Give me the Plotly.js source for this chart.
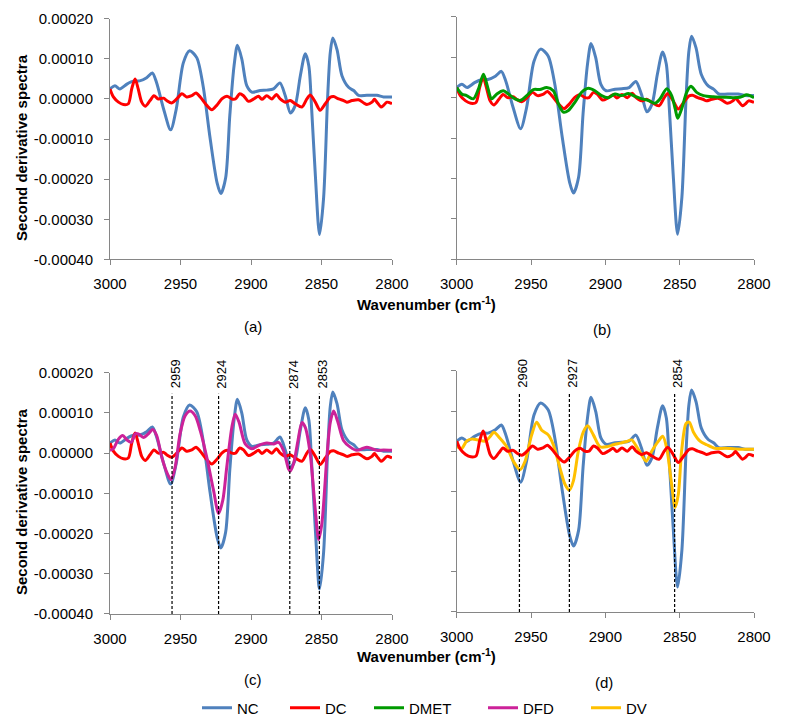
<!DOCTYPE html>
<html>
<head>
<meta charset="utf-8">
<script src="https://cdn.plot.ly/plotly-3.0.1.min.js"></script>
<style>html,body{margin:0;padding:0;background:#fff;}#chart{width:787px;height:725px;}</style>
</head>
<body>
<div id="chart"></div>
<script>
// ---------- DATA ----------
const ncX = [3000,2996.5,2993,2988,2983,2979,2974,2970,2967,2962,2957,2953,2948,2943.5,2938.5,2934,2929,2924,2921.4,2918,2915,2912,2909.6,2906.5,2903,2899.4,2893.5,2888.8,2884,2879.5,2875.7,2872,2868.6,2865,2861.5,2859,2857,2854.4,2851.4,2848.5,2845.7,2843.8,2842,2839,2835.5,2830.8,2827.2,2823.7,2817.8,2810.7,2806,2800];
const ncY = [2.5e-5,3.3e-5,2.5e-5,3.7e-5,4.5e-5,4.5e-5,5.3e-5,6.5e-5,4.1e-5,-2.5e-5,-7.7e-5,-2.5e-5,9.0e-5,1.20e-4,1.03e-4,3.3e-5,-9.8e-5,-2.10e-4,-2.36e-4,-1.97e-4,-4.0e-5,8.3e-5,1.34e-4,9.9e-5,3.3e-5,1.7e-5,2.1e-5,2.2e-5,2.5e-5,4.0e-5,8e-6,-3.5e-5,-1.6e-5,5.8e-5,1.13e-4,8.3e-5,-2.4e-5,-1.88e-4,-3.38e-4,-2.46e-4,0,1.15e-4,1.52e-4,1.23e-4,5.8e-5,2.9e-5,2.1e-5,9e-6,9e-6,9e-6,5e-6,5e-6];

const dcX = [3000,2997.6,2994,2990.5,2987,2984.6,2982.2,2980,2977.5,2975,2971.6,2968.8,2965.7,2962,2959.8,2956.2,2952.7,2949,2945.6,2942,2939,2936,2931.4,2927.8,2924.3,2920.7,2917,2913.6,2911,2908,2905.3,2901.8,2898,2894.7,2892.3,2888.8,2885.2,2882,2879.3,2875.7,2872.2,2868.6,2863.9,2860.4,2858,2854.4,2851,2847.3,2843.8,2841.4,2837.9,2834.3,2832,2828.4,2823.7,2820,2817.8,2814.2,2812.5,2810.7,2807.8,2806,2803.6,2800];
const dcY = [2.5e-5,5e-6,-8e-6,-1.4e-5,-1.2e-5,2.5e-5,5.0e-5,2.5e-5,-8e-6,-1.8e-5,-4e-6,8e-6,0,2e-6,-4e-6,-1.0e-5,0,1.3e-5,5e-6,8e-6,1.5e-5,5e-6,-1.6e-5,-2.7e-5,-1.6e-5,0,7e-6,0,0,1.3e-5,8e-6,-6e-6,0,7e-6,-1e-6,8e-6,0,1.1e-5,0,-8e-6,-4e-6,-1.2e-5,-2.0e-5,0,1.0e-5,-8e-6,-2.8e-5,-1.2e-5,4e-6,6e-6,0,-4e-6,-8e-6,-4e-6,-2e-6,-1.0e-5,-1.4e-5,-8e-6,-1e-6,-8e-6,-2.0e-5,-1.6e-5,-8e-6,-1.2e-5];

const dmetX = [3000,2996.6,2993.3,2988.8,2985.4,2982,2979.4,2976.5,2973,2968.6,2965.2,2960.8,2957.4,2952.9,2948.4,2944,2939.5,2935,2931.6,2928.3,2924.9,2920.4,2916,2911.4,2907,2902.5,2898,2893.5,2889,2884.5,2880,2875.6,2871,2866.6,2863.2,2858.7,2855.4,2853,2851.3,2848.7,2845.3,2842.4,2838.6,2834,2827.4,2820.6,2814,2809.4,2805,2802.7,2800];
const dmetY = [2.5e-5,9e-6,5e-6,-3e-6,2.1e-5,5.8e-5,2.9e-5,-3e-6,9e-6,1.7e-5,9e-6,-3e-6,-7e-6,5e-6,2.0e-5,2.0e-5,2.5e-5,1.7e-5,-1.5e-5,-3.6e-5,-3.2e-5,-1.1e-5,1.3e-5,2.3e-5,1.7e-5,5e-6,0,9e-6,5e-6,1.0e-5,3e-6,-3e-6,-7e-6,-1.4e-5,-3e-6,2.2e-5,5e-6,-2.8e-5,-5.1e-5,-2.8e-5,1.3e-5,2.8e-5,1.3e-5,5e-6,2e-6,1e-6,0,1e-6,7e-6,5e-6,0];

const dfdX = [3000,2997.6,2994,2991,2988,2985,2982,2980,2976.3,2972.8,2969.7,2966.9,2963.3,2959.8,2956.7,2953.8,2950.3,2946.7,2943.2,2939.6,2936,2931.4,2926.6,2923,2920,2917.2,2913.6,2911.2,2908.4,2904.1,2899.4,2894.7,2888.8,2884,2880.5,2877,2873.4,2872.2,2869.8,2866.7,2863.9,2861.5,2858,2854.4,2852,2849.7,2846.2,2843.8,2841.4,2838.6,2834.3,2829.6,2824.9,2821.3,2817.8,2814.2,2810.7,2806,2800];
const dfdY = [7e-6,1.1e-5,3.5e-5,4.4e-5,3.3e-5,2.7e-5,4.8e-5,4.8e-5,3.9e-5,4.8e-5,5.9e-5,4.4e-5,-1.0e-5,-4.7e-5,-6.6e-5,-3.5e-5,4.8e-5,9.3e-5,1.05e-4,9.3e-5,5.6e-5,-1.0e-5,-9.2e-5,-1.50e-4,-1.17e-4,-3.5e-5,6.4e-5,9.7e-5,7.6e-5,2.3e-5,1.1e-5,1.9e-5,2.5e-5,2.3e-5,2.7e-5,7e-6,-3.9e-5,-4.5e-5,-2.6e-5,3.1e-5,7.6e-5,6.4e-5,-2e-6,-1.41e-4,-2.15e-4,-1.74e-4,-1.0e-5,7.6e-5,1.05e-4,8.0e-5,3.1e-5,1.5e-5,7e-6,1.1e-5,1.5e-5,1.1e-5,7e-6,8e-6,7e-6];

const dvX = [3000,2996.6,2993.3,2990,2985.4,2981,2977.6,2975,2970.9,2966.4,2961.9,2957.4,2954,2949.6,2946.2,2942.8,2938.3,2935,2930.5,2927.1,2924.2,2921.5,2918.2,2914.8,2911.9,2908,2903.6,2899,2894.6,2890,2885.7,2882.3,2878.9,2875.6,2872.6,2868.8,2864.3,2861.4,2858.7,2855.4,2853.1,2850.9,2848.7,2845.7,2843.5,2840.8,2836.3,2831.8,2826.2,2819.5,2813.9,2807.2,2800];
const dvY = [1.1e-5,7e-6,2.5e-5,3.0e-5,2.8e-5,2.5e-5,3.6e-5,4.7e-5,3.2e-5,1.1e-5,-2.5e-5,-4.6e-5,-2.5e-5,4.0e-5,7.2e-5,5.2e-5,4.0e-5,1.6e-5,-4.2e-5,-8.3e-5,-9.7e-5,-7.4e-5,0,4.8e-5,6.3e-5,4.0e-5,1.1e-5,1.1e-5,1.6e-5,2.0e-5,2.4e-5,2.8e-5,1.1e-5,-9e-6,-2.5e-5,0,2.5e-5,3.7e-5,7e-6,-8.3e-5,-1.40e-4,-1.07e-4,0,6.9e-5,7.2e-5,4.8e-5,2.5e-5,1.6e-5,7e-6,7e-6,6e-6,5e-6,5e-6];

// axis ticks
const xTickVals = [3000,2950,2900,2850,2800];
const xTickText = ['3000','2950','2900','2850','2800'];
const yTickVals = [0.0002,0.0001,0,-0.0001,-0.0002,-0.0003,-0.0004];
const yTickText = ['0.00020','0.00010','0.00000','-0.00010','-0.00020','-0.00030','-0.00040'];

// marked band positions (as drawn) and their labels
const cMarkPos = [2956,2923,2872.5,2851.5];
const cMarkLabel = ['2959','2924','2874','2853'];
const dMarkPos = [2957.8,2924.2,2853.4];
const dMarkLabel = ['2960','2927','2854'];

const seriesNames = ['NC','DC','DMET','DFD','DV'];
const colors = {NC:'#4F81BD', DC:'#FF0000', DMET:'#009A00', DFD:'#CC2299', DV:'#FFC000'};

// ---------- LAYOUT ----------
const W = 787, H = 725;
const px = v => v / W;
const py = v => 1 - v / H;
const FONT = 'Liberation Sans, Arial, sans-serif';

function tr(x, y, name, ax, show, legendId) {
  return {
    x: x, y: y, name: name, type: 'scatter', mode: 'lines',
    line: {color: colors[name], width: 3, shape: 'spline', smoothing: 0.8},
    xaxis: 'x' + (ax === 1 ? '' : ax), yaxis: 'y' + (ax === 1 ? '' : ax),
    showlegend: show, legend: legendId, hoverinfo: 'skip'
  };
}

const traces = [
  tr(ncX, ncY, 'NC', 1, true, 'legend'),
  tr(dcX, dcY, 'DC', 1, true, 'legend2'),
  tr(ncX, ncY, 'NC', 2, false, 'legend'),
  tr(dcX, dcY, 'DC', 2, false, 'legend2'),
  tr(dmetX, dmetY, 'DMET', 2, true, 'legend3'),
  tr(ncX, ncY, 'NC', 3, false, 'legend'),
  tr(dcX, dcY, 'DC', 3, false, 'legend2'),
  tr(dfdX, dfdY, 'DFD', 3, true, 'legend4'),
  tr(ncX, ncY, 'NC', 4, false, 'legend'),
  tr(dvX, dvY, 'DV', 4, true, 'legend5'),
  tr(dcX, dcY, 'DC', 4, false, 'legend2')
];

function xa(d, anchor) {
  return {
    domain: d, anchor: anchor, range: [3000, 2800], autorange: false,
    tickvals: xTickVals, ticktext: xTickText, ticks: 'outside', ticklen: 5, tickwidth: 1,
    tickcolor: '#868686', showline: true, linecolor: '#868686', linewidth: 1,
    showgrid: false, zeroline: false, ticklabelstandoff: 6,
    tickfont: {family: FONT, size: 15, color: '#000'}, fixedrange: true
  };
}
function ya(d, anchor, labels) {
  return {
    domain: d, anchor: anchor, range: [-0.0004, 0.0002], autorange: false,
    tickvals: yTickVals, ticktext: yTickText, ticks: 'outside', ticklen: 5, tickwidth: 1,
    tickcolor: '#868686', showline: true, linecolor: '#868686', linewidth: 1,
    showgrid: false, zeroline: false, showticklabels: labels, ticklabelstandoff: 8,
    tickfont: {family: FONT, size: 15, color: '#000'}, fixedrange: true
  };
}

const shapes = [];
const annotations = [];
cMarkPos.forEach((p, i) => {
  shapes.push({type: 'line', xref: 'x3', yref: 'y3', x0: p, x1: p, y0: -0.0004, y1: 0.000148,
    line: {color: '#000', width: 1.2, dash: '3px,2px'}});
  annotations.push({xref: 'x3', yref: 'y3', x: p, y: 0.000148, text: cMarkLabel[i], showarrow: false,
    textangle: -90, yanchor: 'bottom', xanchor: 'center', xshift: 3, yshift: 3,
    font: {family: FONT, size: 13, color: '#000'}});
});
dMarkPos.forEach((p, i) => {
  shapes.push({type: 'line', xref: 'x4', yref: 'y4', x0: p, x1: p, y0: -0.0004, y1: 0.000145,
    line: {color: '#000', width: 1.2, dash: '3px,2px'}});
  annotations.push({xref: 'x4', yref: 'y4', x: p, y: 0.000145, text: dMarkLabel[i], showarrow: false,
    textangle: -90, yanchor: 'bottom', xanchor: 'center', xshift: 3, yshift: 3,
    font: {family: FONT, size: 13, color: '#000'}});
});

const titleFont = {family: FONT, size: 15, color: '#000'};
[[150], [509]].forEach(([cy]) => {
  annotations.push({xref: 'paper', yref: 'paper', x: px(22), y: py(cy), text: '<b>Second derivative spectra</b>',
    textangle: -90, showarrow: false, xanchor: 'center', yanchor: 'middle', font: titleFont});
});
[[308], [665]].forEach(([cy]) => {
  annotations.push({xref: 'paper', yref: 'paper', x: px(427), y: py(cy), text: '<b>Wavenumber (cm<sup>-1</sup>)</b>',
    showarrow: false, xanchor: 'center', yanchor: 'middle', font: titleFont});
});
[['(a)', 253, 331], ['(b)', 602, 334], ['(c)', 253, 689], ['(d)', 604, 692]].forEach(([t, x, y]) => {
  annotations.push({xref: 'paper', yref: 'paper', x: px(x), y: py(y), text: t, showarrow: false,
    xanchor: 'center', yanchor: 'middle', font: {family: FONT, size: 15, color: '#000'}});
});

function leg(textStart) {
  return {x: px(textStart - 40), xanchor: 'left', y: py(718), yanchor: 'middle', orientation: 'h',
    bgcolor: 'rgba(0,0,0,0)', borderwidth: 0, font: {family: FONT, size: 15, color: '#000'}};
}

const layout = {
  width: W, height: H, margin: {l: 0, r: 0, t: 0, b: 0},
  paper_bgcolor: '#fff', plot_bgcolor: 'rgba(0,0,0,0)', showlegend: true,
  xaxis: xa([px(110), px(392)], 'y'),
  yaxis: ya([py(263), py(19)], 'x', true),
  xaxis2: xa([px(456.7), px(754)], 'y2'),
  yaxis2: ya([py(263), py(17)], 'x2', false),
  xaxis3: xa([px(110), px(392)], 'y3'),
  yaxis3: ya([py(622.5), py(378)], 'x3', true),
  xaxis4: xa([px(456.7), px(754)], 'y4'),
  yaxis4: ya([py(620.5), py(376)], 'x4', false),
  legend: leg(237), legend2: leg(325), legend3: leg(409), legend4: leg(523), legend5: leg(626),
  shapes: shapes, annotations: annotations
};

Plotly.newPlot('chart', traces, layout, {staticPlot: true, displayModeBar: false});
</script>
</body>
</html>
